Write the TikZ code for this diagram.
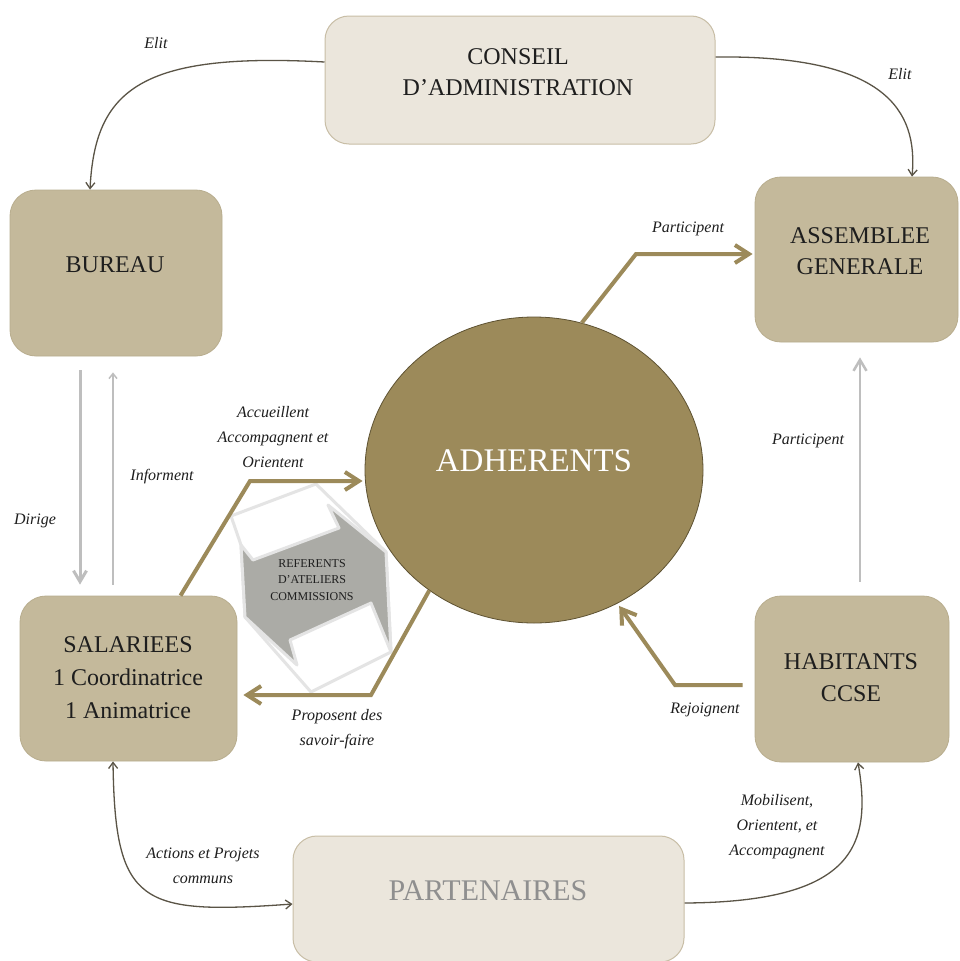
\documentclass[tikz,border=0pt]{standalone}
\usepackage{fontspec}
\setmainfont{Liberation Serif}
\usetikzlibrary{arrows.meta,shapes.geometric}
\definecolor{boxdark}{HTML}{C4B99B}
\definecolor{boxdarkline}{HTML}{B8AD8E}
\definecolor{boxlight}{HTML}{EBE6DC}
\definecolor{boxlightline}{HTML}{C8BEA6}
\definecolor{olive}{HTML}{9C8A5A}
\definecolor{oliveline}{HTML}{5E5232}
\definecolor{grayarrow}{HTML}{BEBEBE}
\definecolor{darkline}{HTML}{5A5446}
\definecolor{txt}{HTML}{1E1E1E}
\definecolor{partxt}{HTML}{8F8F8F}
\definecolor{shapegray}{HTML}{ABABA6}
\definecolor{shapeedge}{HTML}{E4E4E4}
\tikzset{
  darkbox/.style={draw=boxdarkline, line width=0.8pt, fill=boxdark, rounded corners=26pt, inner sep=0pt},
  lightbox/.style={draw=boxlightline, line width=1pt, fill=boxlight, rounded corners=24pt, inner sep=0pt},
  boxtext/.style={text=txt, align=center, font=\fontsize{24}{31}\selectfont, inner sep=0pt},
  lbl/.style={text=txt, align=center, font=\itshape\fontsize{16}{25}\selectfont, inner sep=0pt},
  olivearrow/.style={draw=olive, line width=4pt, line join=miter, -{Straight Barb[length=14pt,width=18pt]}},
  grayarrow/.style={draw=grayarrow, -{Straight Barb[length=11pt,width=13pt]}},
  thinarrow/.style={draw=darkline, line width=1.3pt, -{Straight Barb[length=6pt,width=9pt]}},
  shapeframe/.style={fill=white, draw=shapeedge, line width=3pt, line join=round},
  shapebody/.style={fill=shapegray, draw=shapeedge, line width=3pt, line join=round},
}
\begin{document}
\begin{tikzpicture}[x=1pt,y=-1pt]
\clip (0,0) rectangle (959,961);
\fill[white] (0,0) rectangle (959,961);

% boxes
\node[lightbox, minimum width=390pt, minimum height=128pt] (ca) at (520,80) {};
\node[darkbox, minimum width=212pt, minimum height=166pt] (bur) at (116,273) {};
\node[darkbox, minimum width=203pt, minimum height=165pt] (ag) at (856.5,259.5) {};
\node[darkbox, minimum width=217pt, minimum height=165pt] (sal) at (128.5,678.5) {};
\node[darkbox, minimum width=194pt, minimum height=166pt] (hab) at (852,679) {};
\node[lightbox, minimum width=391pt, minimum height=126pt] (par) at (488.5,899) {};
\node[ellipse, draw=oliveline, line width=0.8pt, fill=olive, minimum width=338pt, minimum height=306pt, inner sep=0pt] (adh) at (534,470) {};

% box texts
\node[boxtext] (tca) at (518,72) {CONSEIL\\D’ADMINISTRATION};
\node[boxtext] (tbur) at (115,265) {BUREAU};
\node[boxtext] (tag) at (860,251) {ASSEMBLEE\\GENERALE};
\node[boxtext, font=\fontsize{24}{33}\selectfont] (tsal) at (128,678) {SALARIEES\\1 Coordinatrice\\1 Animatrice};
\node[boxtext, font=\fontsize{24}{32}\selectfont] (thab) at (851,678) {HABITANTS\\CCSE};
\node[boxtext, text=partxt, font=\fontsize{30}{36}\selectfont] (tpar) at (488,891) {PARTENAIRES};
\node[boxtext, text=white, font=\fontsize{33}{40}\selectfont] (tadh) at (534,461) {ADHERENTS};

% central two-way arrow shape
\path[shapeframe] (231,516) -- (316,484) -- (386,552) -- (391,652) -- (311,692) -- (245,617) -- (241,545) -- cycle;
\path[shapebody] (241,545) -- (253,560) -- (339,528) -- (328,505) -- (386,552) -- (391,652) -- (371,603) -- (290,640) -- (297,665) -- (245,617) -- cycle;
\node[text=txt, align=center, font=\fontsize{12}{16.5}\selectfont, inner sep=0pt] (ref) at (312,580) {REFERENTS\\D’ATELIERS\\COMMISSIONS};

% olive arrows
\coordinate (b1) at (636,254);
\coordinate (b2) at (250,481);
\coordinate (b3) at (371,695);
\coordinate (b4) at (675,685);
\draw[olivearrow, shorten >=2pt] (adh.72) -- (b1) -- (b1 -| ag.west);
\draw[olivearrow, shorten >=2pt] ([xshift=52pt]sal.north) -- (b2) -- (b2 -| adh.west);
\draw[olivearrow, shorten >=6pt] (adh.229) -- (b3) -- (b3 -| sal.east);
\draw[olivearrow, shorten <=12pt, shorten >=3pt] (b4 -| hab.west) -- (b4) -- (adh.302);

% gray arrows
\draw[grayarrow, line width=3pt, shorten <=14pt, shorten >=11pt] ([xshift=-36pt]bur.south) -- ([xshift=-36pt]bur.south |- sal.north);
\draw[grayarrow, line width=1.5pt, -{Straight Barb[length=5pt,width=8pt]}, shorten <=11pt, shorten >=16pt] ([xshift=-3pt]bur.south |- sal.north) -- ([xshift=-3pt]bur.south);
\draw[grayarrow, line width=2.5pt, shorten <=14pt, shorten >=15pt] ([xshift=8pt]hab.north) -- ([xshift=8pt]hab.north |- ag.south);

% thin dark curved arrows
\draw[thinarrow] ([yshift=18pt]ca.west) .. controls (140,52) and (95,90) .. ([xshift=-26pt]bur.north);
\draw[thinarrow] ([yshift=23pt]ca.east) .. controls (885,55) and (918,110) .. ([xshift=55.5pt]ag.north);
\draw[thinarrow, {Straight Barb[length=6pt,width=9pt]}-{Straight Barb[length=6pt,width=9pt]}] ([xshift=-15.5pt]sal.south) .. controls (115,905) and (140,915) .. ([yshift=-5pt]par.west);
\draw[thinarrow] ([yshift=-4pt]par.east) .. controls (855,902) and (872,845) .. ([xshift=6pt]hab.south);

% labels
\node[lbl] (l1) at (156,43) {Elit};
\node[lbl] (l2) at (900,74) {Elit};
\node[lbl] (l3) at (688,229) {Participent};
\node[lbl] (l4) at (808,441) {Participent};
\node[lbl] (l5) at (162,477) {Informent};
\node[lbl] (l6) at (35,521) {Dirige};
\node[lbl] (l7) at (273,437) {Accueillent\\Accompagnent et\\Orientent};
\node[lbl] (l8) at (337,729) {Proposent des\\savoir-faire};
\node[lbl] (l9) at (705,710) {Rejoignent};
\node[lbl] (l10) at (777,827) {Mobilisent,\\Orientent, et\\Accompagnent};
\node[lbl] (l11) at (203,866) {Actions et Projets\\communs};
\end{tikzpicture}
\end{document}
